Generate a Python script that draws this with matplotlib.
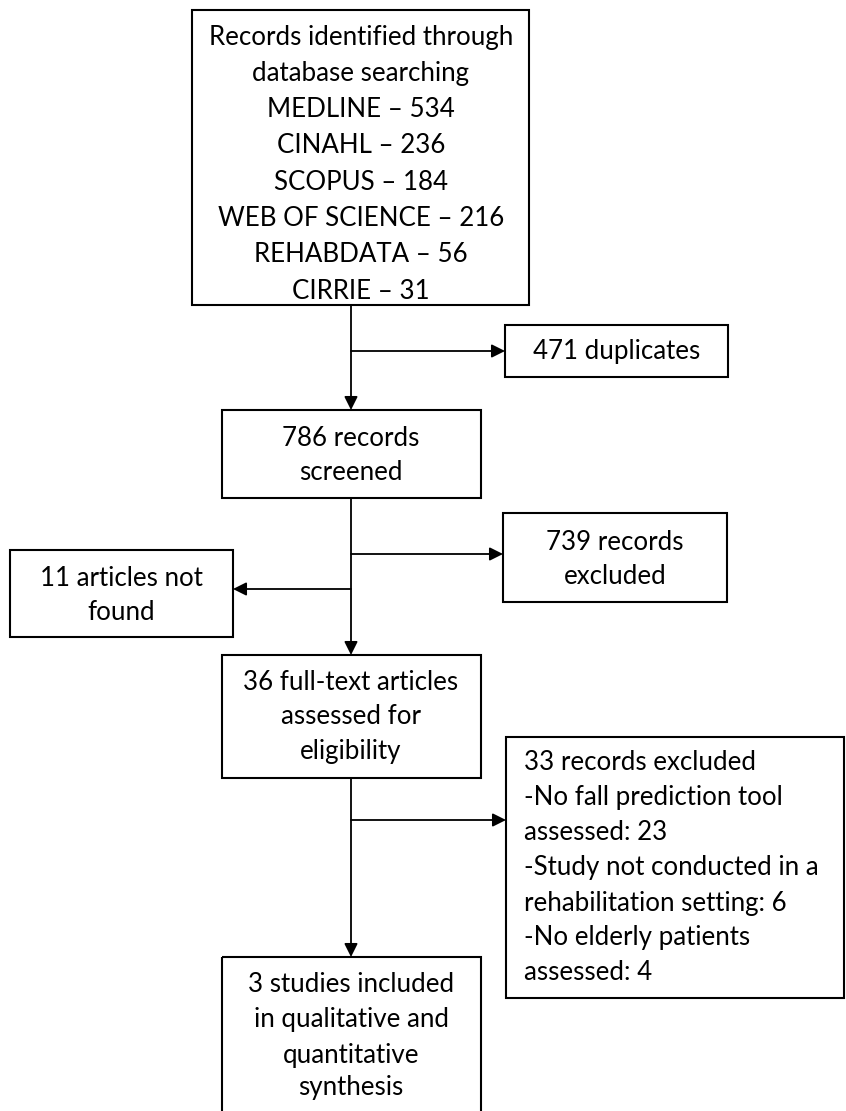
import matplotlib
matplotlib.use("Agg")
import matplotlib.pyplot as plt
from matplotlib.patches import Rectangle, FancyArrowPatch

# ---- content ----
search_title = ["Records identified through", "database searching"]
databases = ["MEDLINE", "CINAHL", "SCOPUS", "WEB OF SCIENCE", "REHABDATA", "CIRRIE"]
db_counts = [534, 236, 184, 216, 56, 31]
n_duplicates = 471
n_screened = 786
n_excluded_screen = 739
n_not_found = 11
n_fulltext = 36
n_excluded_full = 33
excl_reasons = ["No fall prediction tool\nassessed", "Study not conducted in a\nrehabilitation setting",
                "No elderly patients\nassessed"]
excl_counts = [23, 6, 4]
n_included = 3

FONT = "Lato"
FS = 18.6
LW_BOX = 1.5
LW_LINE = 1.3

fig = plt.figure(figsize=(8.46, 11.11), dpi=100)
ax = fig.add_axes([0, 0, 1, 1])
ax.set_xlim(0, 846)
ax.set_ylim(1111, 0)
ax.axis("off")


def box(x0, y0, x1, y1):
    ax.add_patch(Rectangle((x0, y0), x1 - x0, y1 - y0, fill=False,
                           edgecolor="black", linewidth=LW_BOX, zorder=3))


def lines(xc, ys, texts, ha="center"):
    for y, t in zip(ys, texts):
        ax.text(xc, y, t, ha=ha, va="center", fontsize=FS, family=FONT, color="black", zorder=4)


def arrow(x0, y0, x1, y1):
    ax.add_patch(FancyArrowPatch((x0, y0), (x1, y1), arrowstyle="-|>", mutation_scale=20,
                                 shrinkA=0, shrinkB=0, color="black", linewidth=LW_LINE, zorder=2))


LX = 351

# box 1
box(192, 10, 529, 305)
b1_lines = search_title + [f"{d} \u2013 {c}" for d, c in zip(databases, db_counts)]
lines(361, [37 + i * 36.3 for i in range(len(b1_lines))], b1_lines)

# arrow to box 2 and duplicates
arrow(LX, 305, LX, 410)
arrow(LX, 351, 505, 351)
box(505, 325, 728, 377)
lines(616.5, [351], [f"{n_duplicates} duplicates"])

# box 2
box(222, 410, 481, 498)
lines(LX, [438, 472], [f"{n_screened} records", "screened"])

# to box 3
arrow(LX, 498, LX, 655)
arrow(LX, 554, 503, 554)
box(503, 513, 727, 602)
lines(615, [543, 577], [f"{n_excluded_screen} records", "excluded"])
arrow(LX, 589, 233, 589)
box(10, 550, 233, 637)
lines(121.5, [578, 612], [f"{n_not_found} articles not", "found"])

# box 3
box(222, 655, 481, 778)
lines(LX, [683, 717, 752], [f"{n_fulltext} full-text articles", "assessed for", "eligibility"])

# to box 4
arrow(LX, 778, LX, 957)
arrow(LX, 820, 506, 820)
box(506, 737, 844, 998)
b5 = [f"{n_excluded_full} records excluded"]
for r, c in zip(excl_reasons, excl_counts):
    a, b = r.split("\n")
    b5 += ["-" + a, f"{b}: {c}"]
lines(524, [763 + i * 35 for i in range(len(b5))], b5, ha="left")

# box 4
box(222, 957, 481, 1140)
lines(LX, [985, 1020, 1055, 1088],
      [f"{n_included} studies included", "in qualitative and", "quantitative", "synthesis"])

fig.savefig("out.png", dpi=100, facecolor="white")
